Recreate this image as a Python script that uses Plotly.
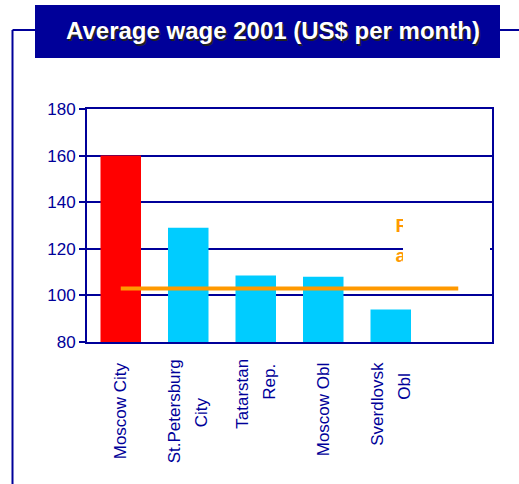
import plotly.graph_objects as go

# Average monthly wage by region, 2001 (US$)
regions = ["Moscow City", "St.Petersburg City", "Tatarstan Rep.", "Moscow Obl", "Sverdlovsk Obl"]
label_lines = [["Moscow City"], ["St.Petersburg", "City"], ["Tatarstan", "Rep."],
               ["Moscow Obl"], ["Sverdlovsk", "Obl"]]
wages = [160, 129, 108.5, 108, 94]
bar_colors = ["#FF0000", "#00CCFF", "#00CCFF", "#00CCFF", "#00CCFF"]
russia_avg = 103
avg_span = [0, 5]
y_ticks = [80, 100, 120, 140, 160, 180]

NAVY = "#000099"
ORANGE = "#FF9900"
FONT = "Liberation Sans, Arial, sans-serif"

W, H = 519, 484
L, R, T, B = 87, 27, 109, 142
pw, ph = W - L - R, H - T - B


def px(x):
    return (x - L) / pw


def py(y):
    return (H - B - y) / ph


xs = list(range(len(regions)))

fig = go.Figure()
fig.add_trace(go.Bar(x=xs, y=wages, marker=dict(color=bar_colors, line=dict(width=0)),
                     width=0.6, showlegend=False, hovertext=regions))
fig.add_trace(go.Scatter(x=avg_span, y=[russia_avg, russia_avg], mode="lines",
                         line=dict(color=ORANGE, width=4), showlegend=False))
# legend fragments peeking out from behind the white panel
fig.add_trace(go.Scatter(x=[4.07, 4.07], y=[129.3, 116.3], mode="text", text=["R", "a"],
                         textposition="middle right",
                         textfont=dict(color=ORANGE, size=19, family=FONT, weight="bold"),
                         showlegend=False))

fig.update_xaxes(range=[-0.5, 5.5], tickvals=xs, showticklabels=False,
                 showline=True, linecolor=NAVY, linewidth=2, mirror=True,
                 showgrid=False, ticks="", zeroline=False)
fig.update_yaxes(range=[80, 180], tickvals=y_ticks, showline=True, linecolor=NAVY,
                 linewidth=2, mirror=True, showgrid=True, gridcolor=NAVY, gridwidth=2,
                 ticks="outside", ticklen=6, tickwidth=2, tickcolor=NAVY, zeroline=False,
                 tickfont=dict(color=NAVY, size=17, family=FONT))

shapes = [
    # white legend panel
    dict(type="rect", xref="paper", yref="paper", x0=px(403), x1=px(490), y0=py(278), y1=py(207),
         fillcolor="white", line=dict(width=0), layer="above"),
    # title banner
    dict(type="rect", xref="paper", yref="paper", x0=px(35), x1=px(500), y0=py(58), y1=py(5),
         fillcolor=NAVY, line=dict(width=0), layer="above"),
    # outer frame lines
    dict(type="line", xref="paper", yref="paper", x0=px(12.5), x1=px(12.5), y0=py(30), y1=py(490),
         line=dict(color=NAVY, width=2), layer="above"),
    dict(type="line", xref="paper", yref="paper", x0=px(12.5), x1=px(35), y0=py(30), y1=py(30),
         line=dict(color=NAVY, width=2), layer="above"),
    dict(type="line", xref="paper", yref="paper", x0=px(500), x1=px(525), y0=py(30), y1=py(30),
         line=dict(color=NAVY, width=2), layer="above"),
]

title = "Average wage 2001 (US$ per month)"
annotations = [
    dict(text=title, xref="paper", yref="paper", x=px(273), y=py(31), xanchor="center",
         yanchor="middle", showarrow=False,
         font=dict(color="white", size=24, family=FONT, weight="bold",
                   shadow="1.5px 1.5px 0.5px #222222")),
]

# rotated category labels: per-line horizontal offset and top edge (px)
line_dx = {1: [0], 2: [-14, 13]}
line_top = [[360], [357, 395], [357, 362], [360], [360, 372]]
for i, lines in enumerate(label_lines):
    for j, txt in enumerate(lines):
        annotations.append(dict(
            text=txt, x=xs[i], xref="x", y=py(line_top[i][j]), yref="paper",
            xanchor="center", yanchor="top", xshift=line_dx[len(lines)][j],
            textangle=-90, showarrow=False,
            font=dict(color=NAVY, size=17, family=FONT)))

fig.update_layout(width=W, height=H, margin=dict(l=L, r=R, t=T, b=B, pad=0),
                  paper_bgcolor="white", plot_bgcolor="white",
                  shapes=shapes, annotations=annotations)

fig.write_html("out.html")
